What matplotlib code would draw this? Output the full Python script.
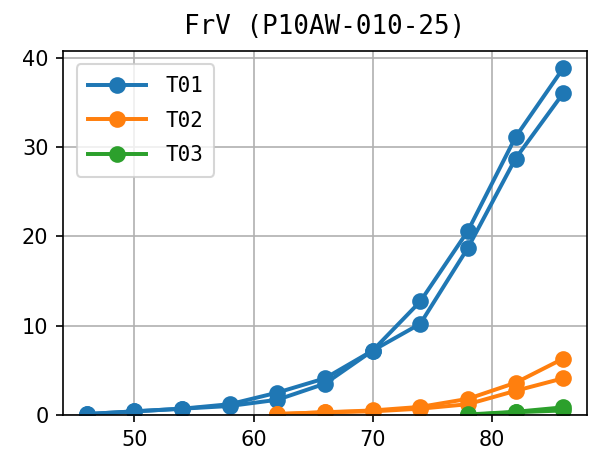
import matplotlib
matplotlib.use('Agg')
import matplotlib.pyplot as plt

# each test has an up sweep and a down sweep, drawn as two lines
t01_up_x = [46, 50, 54, 58, 62, 66, 70, 74, 78, 82, 86]
t01_up_y = [0.1, 0.4, 0.7, 1.0, 1.7, 3.5, 7.2, 10.2, 18.7, 28.7, 36.0]
t01_dn_x = [86, 82, 78, 74, 70, 66, 62, 58, 54, 50, 46]
t01_dn_y = [38.8, 31.1, 20.6, 12.7, 7.2, 4.1, 2.5, 1.2, 0.7, 0.4, 0.1]

t02_up_x = [62, 66, 70, 74, 78, 82, 86]
t02_up_y = [0.1, 0.3, 0.4, 0.7, 1.2, 2.7, 4.1]
t02_dn_x = [86, 82, 78, 74, 70, 66, 62]
t02_dn_y = [6.3, 3.6, 1.8, 0.9, 0.5, 0.3, 0.1]

t03_up_x = [78, 82, 86]
t03_up_y = [0.0, 0.3, 0.5]
t03_dn_x = [86, 82, 78]
t03_dn_y = [0.85, 0.35, 0.05]

labels = ['T01', 'T02', 'T03']
colors = ['#1f77b4', '#ff7f0e', '#2ca02c']
title = "FrV (P10AW-010-25)"

fig, ax = plt.subplots(figsize=(5.89 / 1.5, 4.59 / 1.5), dpi=150)
fig.subplots_adjust(left=0.107, right=0.9966, top=0.889, bottom=0.096)

series = [
    (t01_up_x, t01_up_y, t01_dn_x, t01_dn_y),
    (t02_up_x, t02_up_y, t02_dn_x, t02_dn_y),
    (t03_up_x, t03_up_y, t03_dn_x, t03_dn_y),
]
for (ux, uy, dx, dy), lab, col in zip(series, labels, colors):
    ax.plot(ux, uy, marker='o', color=col, label=lab, lw=1.9, ms=7)
    ax.plot(dx, dy, marker='o', color=col, lw=1.9, ms=7)

ax.set_ylim(bottom=0)
ax.set_xticks([50, 60, 70, 80])
ax.grid(True)
ax.set_title(title, family='DejaVu Sans Mono', fontsize=12.4, pad=8)
ax.legend(loc='upper left', prop={'family': 'DejaVu Sans Mono', 'size': 10},
          handlelength=2.8, handletextpad=0.9, labelspacing=0.7,
          borderaxespad=0.65, borderpad=0.55)

fig.savefig('out.png', dpi=150)
